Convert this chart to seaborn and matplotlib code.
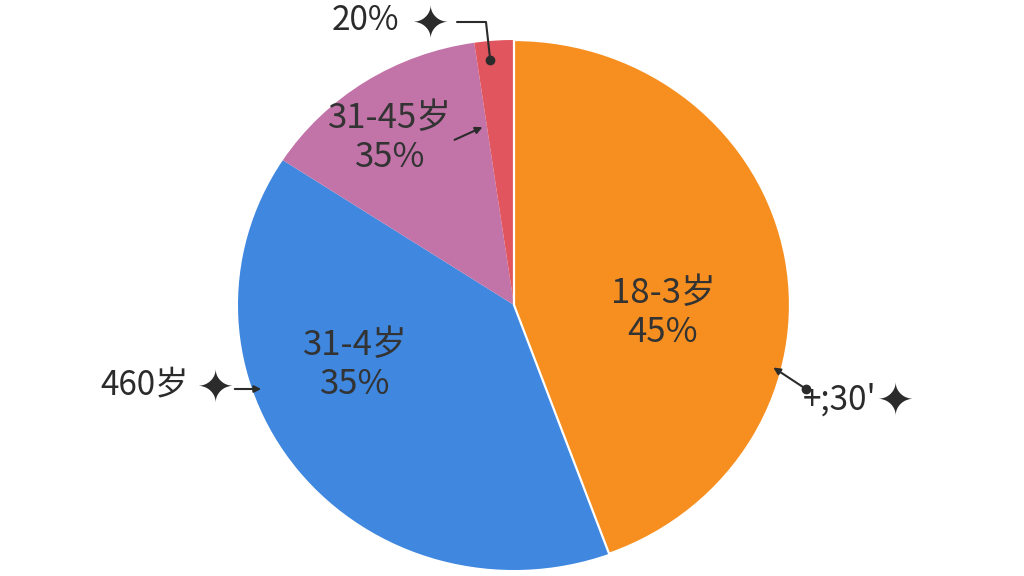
import matplotlib
matplotlib.use("Agg")
import matplotlib.pyplot as plt
import seaborn as sns

sns.set_theme(style="white")
plt.rcParams["font.family"] = ["Noto Sans CJK SC", "DejaVu Sans"]

# Slice data
groups = ["18-3岁", "31-4岁", "31-45岁", "20%"]
shares = [44.4, 39.8, 13.5, 2.3]
inner_labels = ["18-3岁\n45%", "31-4岁\n35%", "31-45岁\n35%", ""]
colors = ["#F68F20", "#3F87DF", "#C274A9", "#E0555E"]

# Outer callout texts
callout_texts = ["20%", "460岁", "+;30'"]

W, H = 1024, 576
fig = plt.figure(figsize=(W / 100, H / 100), dpi=100)


def px(x, y):
    return (x / W, 1 - y / H)


# The pie in the reference is slightly wider than tall
ax = fig.add_axes([238 / W, (H - 570) / H, 552 / W, 530 / H])
wedges, _ = ax.pie(shares, colors=colors, startangle=90, counterclock=False,
                   wedgeprops=dict(linewidth=0))
# only the orange slice has a thin white border
wedges[0].set_edgecolor("white")
wedges[0].set_linewidth(1.6)
wedges[0].set_zorder(5)
ax.set_aspect("auto")
ax.set_xlim(-1, 1)
ax.set_ylim(-1, 1)
ax.axis("off")

# Labels inside slices
label_pos = [(663, 313), (355, 365), (390, 138)]
for text, (x, y) in zip(inner_labels[:3], label_pos):
    fig.text(*px(x, y), text, ha="center", va="center", fontsize=25,
             color="#333333", linespacing=1.15, zorder=10)

# Callouts with sparkles
dark = "#2b2b2b"
star_font = ["DejaVu Sans"]

# top: "20%"
fig.text(*px(365, 20), callout_texts[0], ha="center", va="center", fontsize=24, color=dark)
fig.text(*px(430, 25), "\u2726", ha="center", va="center", fontsize=32, color=dark,
         family=star_font)
fig.add_artist(plt.Line2D([457 / W, 486 / W, 490 / W], [1 - 22 / H, 1 - 22 / H, 1 - 58 / H],
                          color=dark, lw=1.5, transform=fig.transFigure, zorder=10))
fig.add_artist(plt.Line2D([490 / W], [1 - 60 / H], marker="o", ms=6, color=dark,
                          transform=fig.transFigure, zorder=10))

# pink label arrow
fig.add_artist(matplotlib.patches.FancyArrowPatch(px(452, 141), px(485, 126),
                                                  transform=fig.transFigure,
                                                  arrowstyle="-|>", mutation_scale=10,
                                                  color=dark, lw=1.5, zorder=10))

# left: "460岁"
fig.text(*px(145, 385), callout_texts[1], ha="center", va="center", fontsize=24, color=dark)
fig.text(*px(215, 389), "\u2726", ha="center", va="center", fontsize=32, color=dark,
         family=star_font)
fig.add_artist(matplotlib.patches.FancyArrowPatch(px(232, 389), px(264, 389),
                                                  transform=fig.transFigure,
                                                  arrowstyle="-|>", mutation_scale=10,
                                                  color=dark, lw=1.5, zorder=10))

# right: "+;30'"
fig.text(*px(840, 400), callout_texts[2], ha="center", va="center", fontsize=24, color=dark)
fig.text(*px(895, 402), "\u2726", ha="center", va="center", fontsize=32, color=dark,
         family=star_font)
fig.add_artist(matplotlib.patches.FancyArrowPatch(px(806, 389), px(771, 366),
                                                  transform=fig.transFigure,
                                                  arrowstyle="-|>", mutation_scale=10,
                                                  color=dark, lw=1.5, zorder=10))
fig.add_artist(plt.Line2D([806 / W], [1 - 389 / H], marker="o", ms=6, color=dark,
                          transform=fig.transFigure, zorder=10))

fig.savefig("out.png", dpi=100, facecolor="white")
